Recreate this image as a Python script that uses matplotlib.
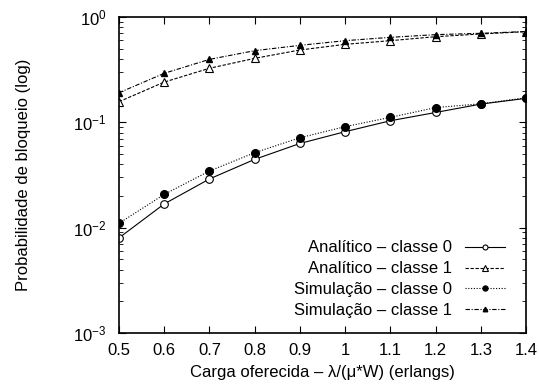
import matplotlib
matplotlib.use("Agg")
import matplotlib.pyplot as plt
from matplotlib.ticker import LogLocator, NullFormatter, FixedLocator

plt.rcParams['font.family'] = ['Liberation Sans', 'DejaVu Sans']
plt.rcParams['mathtext.fontset'] = 'custom'
plt.rcParams['mathtext.rm'] = 'Liberation Sans'

load = [0.5, 0.6, 0.7, 0.8, 0.9, 1.0, 1.1, 1.2, 1.3, 1.4]
analitico_c0 = [0.0080, 0.0168, 0.029, 0.0445, 0.063, 0.0815, 0.1035, 0.124, 0.149, 0.169]
analitico_c1 = [0.157, 0.241, 0.326, 0.405, 0.486, 0.550, 0.596, 0.650, 0.690, 0.726]
simulacao_c0 = [0.011, 0.0207, 0.0345, 0.0515, 0.0714, 0.091, 0.1115, 0.138, 0.150, 0.171]
simulacao_c1 = [0.191, 0.292, 0.396, 0.479, 0.538, 0.596, 0.641, 0.680, 0.700, 0.728]
labels = ["Analítico – classe 0", "Analítico – classe 1",
          "Simulação – classe 0", "Simulação – classe 1"]
xticks = [0.5, 0.6, 0.7, 0.8, 0.9, 1.0, 1.1, 1.2, 1.3, 1.4]
xticklabels = ["0.5", "0.6", "0.7", "0.8", "0.9", "1", "1.1", "1.2", "1.3", "1.4"]

FS = 12
fig = plt.figure(figsize=(5.39, 3.90), dpi=100)
ax = fig.add_axes([119/539, 1-333/390, (526-119)/539, (333-17)/390])

lw = 0.8
ax.plot(load, analitico_c0, color='black', lw=lw, ls='-', marker='o', ms=5.5,
        mfc='white', mec='black', mew=0.8, label=labels[0])
ax.plot(load, analitico_c1, color='black', lw=lw, ls=(0, (3, 1.5)), marker='^', ms=6,
        mfc='white', mec='black', mew=0.8, label=labels[1])
ax.plot(load, simulacao_c0, color='black', lw=lw, ls=(0, (1, 1.5)), marker='o', ms=5.5,
        mfc='black', mec='black', label=labels[2])
ax.plot(load, simulacao_c1, color='black', lw=lw, ls=(0, (4, 1.5, 1, 1.5)), marker='^', ms=5,
        mfc='black', mec='black', label=labels[3])

ax.set_yscale('log')
ax.set_ylim(1e-3, 1)
ax.set_xlim(0.5, 1.4)
ax.xaxis.set_major_locator(FixedLocator(xticks))
ax.set_xticklabels(xticklabels)
ax.yaxis.set_major_locator(LogLocator(base=10, numticks=10))
ax.yaxis.set_minor_locator(LogLocator(base=10, subs=range(2, 10), numticks=20))
ax.yaxis.set_minor_formatter(NullFormatter())

ax.tick_params(which='both', direction='in', top=True, right=True, labelsize=FS)
ax.tick_params(axis='x', which='major', pad=7)
ax.tick_params(axis='y', which='major', pad=9)
ax.tick_params(which='major', length=5, width=0.8)
ax.tick_params(which='minor', length=3, width=0.6)
for s in ax.spines.values():
    s.set_linewidth(1.2)

ax.set_xlabel("Carga oferecida – λ/(μ*W) (erlangs)", fontsize=FS, labelpad=5)
ax.set_ylabel("Probabilidade de bloqueio (log)", fontsize=FS, labelpad=30)

leg = ax.legend(loc='lower right', bbox_to_anchor=(1 - 16/407, 10/316),
                markerfirst=False, frameon=False, fontsize=FS,
                handlelength=2.4, markerscale=0.65, labelspacing=0.35,
                borderaxespad=0.0, handletextpad=0.8, borderpad=0.3)

fig.savefig("out.png", dpi=100)
